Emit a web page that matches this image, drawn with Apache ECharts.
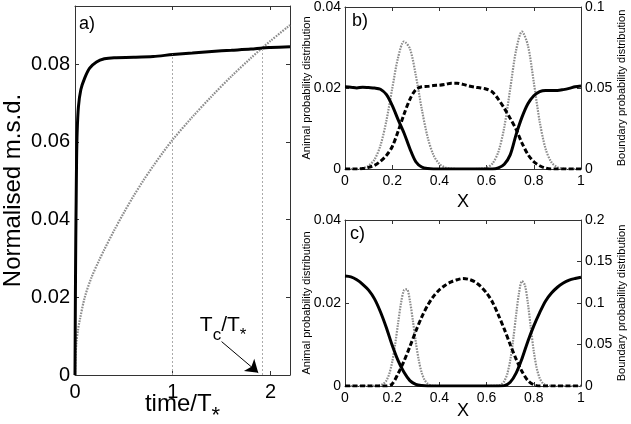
<!DOCTYPE html>
<html><head><meta charset="utf-8">
<script src="https://cdn.jsdelivr.net/npm/echarts@6/dist/echarts.min.js"></script>
<style>html,body{margin:0;padding:0;background:#fff}#c{width:631px;height:424px}</style>
</head><body><div id="c"></div>
<script>
// ---------- Panel a: normalised m.s.d. vs time/T* ----------
const tBlack   = [0, 0.004, 0.008, 0.012, 0.016, 0.022, 0.035, 0.06, 0.1, 0.15, 0.22, 0.3, 0.4, 0.6, 0.8, 1.0, 1.2, 1.4, 1.6, 1.8, 1.92, 2.0, 2.2];
const msdBlack = [0, 0.02, 0.035, 0.045, 0.055, 0.0625, 0.069, 0.0735, 0.0765, 0.079, 0.0806, 0.0814, 0.0817, 0.0818, 0.082, 0.0825, 0.0829, 0.0833, 0.0836, 0.0839, 0.0842, 0.0843, 0.0845];
const tGray    = [0, 0.005, 0.015, 0.03, 0.05, 0.1, 0.17, 0.25, 0.3, 0.4, 0.5, 0.6, 0.7, 0.8, 0.9, 1.0, 1.2, 1.4, 1.6, 1.8, 1.92, 2.0, 2.2];
const msdGray  = [0, 0.0045, 0.0085, 0.0115, 0.0143, 0.0200, 0.0252, 0.0297, 0.0323, 0.0372, 0.0418, 0.0461, 0.0501, 0.0538, 0.0573, 0.0606, 0.0664, 0.0718, 0.0769, 0.0816, 0.0843, 0.0860, 0.0901];
const markT = [1, 1.92];
const aXTicks = [0, 2.2, 1];      // min, max, interval
const aYTicks = [0, 0.095, 0.02];
const annotPos = [1.277, 0.0155];
const arrowFrom = [1.5, 0.0086];
const arrowTo = [1.875, 0.0006];

// ---------- Panels b and c: probability distributions over X ----------
const xB = [0,0.025,0.05,0.075,0.1,0.125,0.15,0.175,0.2,0.225,0.25,0.275,0.3,0.325,0.35,0.375,0.4,0.425,0.45,0.475,0.5,0.525,0.55,0.575,0.6,0.625,0.65,0.675,0.7,0.725,0.75,0.775,0.8,0.825,0.85,0.875,0.9,0.925,0.95,0.975,1];
const solidB  = [0.0203,0.0202,0.0200,0.0202,0.0201,0.0200,0.0197,0.0184,0.0157,0.0122,0.0089,0.0050,0.0018,0.0005,0.0001,0,0,0,0,0,0,0,0,0,0,0,0.0003,0.0012,0.0035,0.0085,0.0128,0.0161,0.0181,0.0191,0.0194,0.0194,0.0194,0.0196,0.0199,0.0203,0.0205];
const dashedB = [0,0,0,0.0001,0.0004,0.0009,0.0019,0.0033,0.0055,0.0093,0.0135,0.0172,0.0196,0.0203,0.0204,0.0206,0.0207,0.0209,0.0212,0.0212,0.0209,0.0205,0.0202,0.0200,0.0197,0.0190,0.0172,0.0150,0.0125,0.0098,0.0064,0.0036,0.0018,0.0008,0.0002,0,0,0,0,0,0];
const grayB   = [0,0,0,0.0003,0.0020,0.0058,0.0144,0.0295,0.0496,0.0688,0.0787,0.0743,0.0579,0.0372,0.0197,0.0086,0.0031,0.0009,0.0002,0,0,0,0,0.0002,0.0008,0.0034,0.0106,0.0259,0.0494,0.0733,0.0848,0.0763,0.0535,0.0292,0.0124,0.0041,0.0011,0.0002,0,0,0];

const solidC  = [0.0265,0.0263,0.0256,0.0245,0.0231,0.0210,0.0179,0.0141,0.0098,0.0061,0.0033,0.0013,0.0004,0.0001,0,0,0,0,0,0,0,0,0,0,0,0,0,0.0001,0.0009,0.0031,0.0066,0.0108,0.0145,0.0177,0.0205,0.0224,0.0238,0.0248,0.0255,0.0259,0.0262];
const dashedC = [0,0,0,0,0,0,0,0,0.0005,0.0030,0.0060,0.0095,0.0132,0.0166,0.0194,0.0216,0.0232,0.0243,0.0251,0.0256,0.0259,0.0257,0.0251,0.0240,0.0224,0.0202,0.0171,0.0137,0.0100,0.0065,0.0035,0.0013,0.0003,0,0,0,0,0,0,0,0];
const xGrayC = [0,0.125,0.15,0.1625,0.175,0.1875,0.2,0.2125,0.225,0.2375,0.25,0.2625,0.275,0.2875,0.3,0.3125,0.325,0.3375,0.35,0.3625,0.375,0.4,0.6,0.65,0.6625,0.675,0.6875,0.7,0.7125,0.725,0.7375,0.75,0.7625,0.775,0.7875,0.8,0.8125,0.825,0.8375,0.85,0.8625,0.875,0.9,1];
const grayC  = [0,0.0001,0.0008,0.0025,0.0064,0.0146,0.0290,0.0501,0.0758,0.1001,0.1155,0.1165,0.1026,0.0789,0.0530,0.0312,0.0160,0.0072,0.0028,0.0009,0.0002,0,0,0.0006,0.0020,0.0059,0.0146,0.0308,0.0555,0.0855,0.1125,0.1264,0.1214,0.0995,0.0697,0.0417,0.0213,0.0093,0.0035,0.0011,0.0003,0,0,0];

const bcXTicks = [0, 1, 0.2];
const bcLeftTicks = [0, 0.04, 0.02];
const bRightTicks = [0, 0.1, 0.05];
const cRightTicks = [0, 0.2, 0.05];

const FONT = '"Liberation Sans", Arial, Helvetica, sans-serif';
const AX = '#333';

function axis(o) {
  const a = {
    type: 'value', gridIndex: o.grid, position: o.pos,
    min: o.ticks[0], max: o.ticks[1], interval: o.ticks[2],
    axisLine: {show: true, onZero: false, lineStyle: {color: AX, width: 1}},
    axisTick: {show: true, inside: true, length: 4, lineStyle: {color: AX}},
    splitLine: {show: false},
    axisLabel: {show: !!o.labels, color: '#000', fontFamily: FONT, fontSize: o.fs || 14,
                margin: o.margin || 5, showMaxLabel: o.showMax !== false, showMinLabel: true,
                hideOverlap: false}
  };
  if (o.name) {
    a.name = o.name; a.nameLocation = 'middle'; a.nameGap = o.nameGap;
    a.nameMoveOverlap = false;
    if (o.nameRotate !== undefined) a.nameRotate = o.nameRotate;
    a.nameTextStyle = Object.assign({color: '#000', fontFamily: FONT, fontSize: o.nameFs || 14}, o.nameStyle || {});
  }
  return a;
}

const pairs = (xs, ys) => xs.map((x, i) => [x, ys[i]]);

const solidStyle = {color: '#000', width: 3};
const dashStyle = {color: '#000', width: 3, type: [5, 2.5]};
const grayStyle = {color: '#8c8c8c', width: 2.2, type: [1.6, 1.2]};

const labelsTexts = [
  {type: 'text', left: 79, top: 15, style: {text: 'a)', font: '18px ' + FONT, fill: '#000'}},
  {type: 'text', left: 352, top: 12, style: {text: 'b)', font: '18px ' + FONT, fill: '#000'}},
  {type: 'text', left: 350, top: 225, style: {text: 'c)', font: '18px ' + FONT, fill: '#000'}}
];

const option = {
  animation: false,
  backgroundColor: '#fff',
  grid: [
    {left: 75, top: 6, width: 215, height: 369, outerBoundsMode: 'none', containLabel: false},
    {left: 345, top: 7, width: 236, height: 162, outerBoundsMode: 'none', containLabel: false},
    {left: 345, top: 220, width: 236, height: 166, outerBoundsMode: 'none', containLabel: false}
  ],
  xAxis: [
    axis({grid: 0, pos: 'bottom', ticks: aXTicks, labels: true, fs: 20, margin: 7, showMax: false,
          name: '{m|time/T}{s|*}', nameGap: 17,
          nameStyle: {rich: {m: {fontSize: 24, fontFamily: FONT, color: '#000', padding: [0, 0, 12, 0]},
                             s: {fontSize: 22, fontFamily: FONT, color: '#000', padding: [12, 0, 0, 0]}}}}),
    axis({grid: 0, pos: 'top', ticks: aXTicks}),
    axis({grid: 1, pos: 'bottom', ticks: bcXTicks, labels: true, fs: 14, margin: 5, name: 'X', nameGap: 24, nameFs: 18}),
    axis({grid: 1, pos: 'top', ticks: bcXTicks}),
    axis({grid: 2, pos: 'bottom', ticks: bcXTicks, labels: true, fs: 14, margin: 5, name: 'X', nameGap: 16, nameFs: 18}),
    axis({grid: 2, pos: 'top', ticks: bcXTicks})
  ],
  yAxis: [
    axis({grid: 0, pos: 'left', ticks: aYTicks, labels: true, fs: 20, margin: 5, showMax: false,
          name: 'Normalised m.s.d.', nameGap: 50, nameFs: 24}),
    axis({grid: 0, pos: 'right', ticks: aYTicks}),
    axis({grid: 1, pos: 'left', ticks: bcLeftTicks, labels: true, fs: 14, margin: 4,
          name: 'Animal probability distribution', nameGap: 33, nameFs: 11}),
    axis({grid: 1, pos: 'right', ticks: bRightTicks, labels: true, fs: 14, margin: 4,
          name: 'Boundary probability distribution', nameGap: 35, nameFs: 11, nameRotate: 90}),
    axis({grid: 2, pos: 'left', ticks: bcLeftTicks, labels: true, fs: 14, margin: 4,
          name: 'Animal probability distribution', nameGap: 33, nameFs: 11}),
    axis({grid: 2, pos: 'right', ticks: cRightTicks, labels: true, fs: 14, margin: 4,
          name: 'Boundary probability distribution', nameGap: 35, nameFs: 11, nameRotate: 90})
  ],
  series: [
    {type: 'line', xAxisIndex: 0, yAxisIndex: 0, data: pairs(tGray, msdGray), showSymbol: false, smooth: 0.3,
     lineStyle: grayStyle, z: 2,
     markLine: {silent: true, symbol: ['none', 'arrow'], symbolSize: 12, symbolOffset: 0, label: {show: false},
                lineStyle: {color: '#000', width: 1, type: 'solid'},
                itemStyle: {color: '#000'},
                data: [[{coord: arrowFrom}, {coord: arrowTo}]]}},
    {type: 'line', xAxisIndex: 0, yAxisIndex: 0, data: pairs(tBlack, msdBlack), showSymbol: false, smooth: 0.3,
     lineStyle: solidStyle, z: 3,
     markLine: {silent: true, symbol: 'none', label: {show: false},
                lineStyle: {color: '#aaa', width: 1, type: [2, 2]},
                data: markT.map(t => [{coord: [t, 0]}, {coord: [t, msdBlack[tBlack.indexOf(t)]]}])}},

    {type: 'line', xAxisIndex: 2, yAxisIndex: 3, data: pairs(xB, grayB), showSymbol: false, smooth: 0.3, lineStyle: grayStyle},
    {type: 'line', xAxisIndex: 2, yAxisIndex: 2, data: pairs(xB, dashedB), showSymbol: false, smooth: 0.3, lineStyle: dashStyle},
    {type: 'line', xAxisIndex: 2, yAxisIndex: 2, data: pairs(xB, solidB), showSymbol: false, smooth: 0.3, lineStyle: solidStyle},

    {type: 'line', xAxisIndex: 4, yAxisIndex: 5, data: pairs(xGrayC, grayC), showSymbol: false, smooth: 0.3, lineStyle: grayStyle},
    {type: 'line', xAxisIndex: 4, yAxisIndex: 4, data: pairs(xB, dashedC), showSymbol: false, smooth: 0.3, lineStyle: dashStyle},
    {type: 'line', xAxisIndex: 4, yAxisIndex: 4, data: pairs(xB, solidC), showSymbol: false, smooth: 0.3, lineStyle: solidStyle}
  ],
  graphic: labelsTexts
};

const chart = echarts.init(document.getElementById('c'));
chart.setOption(option);

const p = chart.convertToPixel({xAxisIndex: 0, yAxisIndex: 0}, annotPos);
chart.setOption({graphic: labelsTexts.concat([
  {type: 'text', x: p[0], y: p[1], style: {
    text: '{m|T}{s|c}{m|/T}{s|*}', fill: '#000', verticalAlign: 'top', align: 'left',
    rich: {m: {fontSize: 21, fontFamily: FONT, fill: '#000', padding: [0, 0, 10, 0]},
           s: {fontSize: 17, fontFamily: FONT, fill: '#000', padding: [10, 0, 0, 0]}}}}
])});
</script>
</body></html>
